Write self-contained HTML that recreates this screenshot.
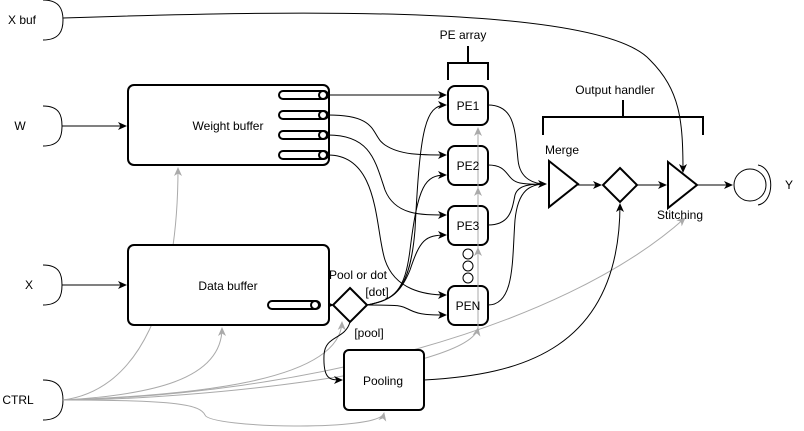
<!DOCTYPE html>
<html><head><meta charset="utf-8"><style>
html,body{margin:0;padding:0;background:#fff;}
svg{display:block;font-family:"Liberation Sans",sans-serif;font-size:12px;}
</style></head><body>
<svg width="804" height="431" viewBox="0 0 804 431" xmlns="http://www.w3.org/2000/svg">
<defs>
<marker id="a" markerWidth="10" markerHeight="10" refX="8" refY="5" orient="auto" markerUnits="userSpaceOnUse"><path d="M0,1 L9,5 L0,9 L2.5,5 Z" fill="#000"/></marker>
<marker id="g" markerWidth="10" markerHeight="10" refX="8" refY="5" orient="auto" markerUnits="userSpaceOnUse"><path d="M0,1 L9,5 L0,9 L2.5,5 Z" fill="#aaa"/></marker>
</defs>
<g fill="none" stroke="#000">
<path d="M43,0 C60,0 63,10 63,20 C63,30 60,40 43,40"/>
<path d="M43,106 C60,106 62,116 62,126 C62,136 60,146 43,146"/>
<path d="M43,265 C60,265 62,275 62,285 C62,295 60,305 43,305"/>
<path d="M43,380 C60,380 63,390 63,400 C63,410 60,420 43,420"/>
</g>
<g fill="none" stroke="#aaa" stroke-width="1">
<path d="M63,400 C140,390 178,300 178,168" marker-end="url(#g)"/>
<path d="M63,400 C150,395 222,380 222,328" marker-end="url(#g)"/>
<path d="M63,400 C200,395 340,380 342,322" marker-end="url(#g)"/>
<path d="M63,400 C200,400 470,370 478,328" marker-end="url(#g)"/>
<path d="M63,400 C300,395 560,330 685,218" marker-end="url(#g)"/>
<path d="M63,400 C180,400 200,405 205,415 C210,428 380,432 384,413" marker-end="url(#g)"/>
</g>
<g fill="none" stroke="#000" stroke-width="1">
<path d="M63,18 C300,10 600,5 650,60 C680,90 683,120 683,172" marker-end="url(#a)"/>
<line x1="62" y1="126" x2="126" y2="126" marker-end="url(#a)"/>
<line x1="62" y1="285" x2="126" y2="285" marker-end="url(#a)"/>
<line x1="328" y1="95" x2="446" y2="95" marker-end="url(#a)"/>
<path d="M328,115 C380,115 370,135 385,145 C400,155 420,155 446,155" marker-end="url(#a)"/>
<path d="M328,135 C370,135 375,160 385,190 C395,215 420,215 446,215" marker-end="url(#a)"/>
<path d="M328,155 C380,155 375,230 385,260 C395,290 425,295 446,295" marker-end="url(#a)"/>
<path d="M367,305 C395,300 410,290 415,230 C420,130 425,105 446,105" marker-end="url(#a)"/>
<path d="M367,305 C395,300 405,290 410,250 C418,185 425,175 446,175" marker-end="url(#a)"/>
<path d="M367,305 C390,300 400,295 410,270 C420,240 425,235 446,235" marker-end="url(#a)"/>
<path d="M367,305 C400,305 400,305 410,310 C420,315 430,315 446,315" marker-end="url(#a)"/>
<path d="M350,322 C345,340 325,335 324,355 C323,380 330,380 342,380" marker-end="url(#a)"/>
<path d="M320,305 L333,305" marker-end="url(#a)"/>
<path d="M488,105 C515,105 515,130 518,160 C520,180 535,184 546,184" marker-end="url(#a)"/>
<path d="M488,165 C510,165 505,180 520,183 C530,185 540,184 546,184"/>
<path d="M488,225 C510,225 512,210 515,195 C518,185 530,184 546,184"/>
<path d="M488,305 C515,305 512,260 515,220 C518,190 530,184 546,184"/>
<path d="M424,380 C520,375 620,350 620,204" marker-end="url(#a)"/>
<line x1="578" y1="185" x2="601" y2="185" marker-end="url(#a)"/>
<line x1="637" y1="185" x2="666" y2="185" marker-end="url(#a)"/>
<line x1="697" y1="185" x2="732" y2="185" marker-end="url(#a)"/>
</g>
<g fill="#fff" stroke="#000" stroke-width="2">
<rect x="128" y="85" width="201" height="80" rx="6"/>
<rect x="128" y="245" width="201" height="80" rx="6"/>
<rect x="344" y="350" width="80" height="60" rx="5"/>
<rect x="448" y="86" width="40" height="39" rx="7"/>
<rect x="448" y="146" width="40" height="39" rx="7"/>
<rect x="448" y="206" width="40" height="39" rx="7"/>
<rect x="448" y="286" width="40" height="39" rx="7"/>
<path d="M350,288 L367,305 L350,322 L333,305 Z"/>
<path d="M620,168 L637,185 L620,202 L603,185 Z"/>
<path d="M549,161 L578,184 L549,207 Z"/>
<path d="M668,162 L697,185 L668,208 Z"/>
<path d="M468,46 V63 M448,80 V63 H488 V80" fill="none"/>
<path d="M623,100 V117 M543,135 V117 H703 V135" fill="none"/>
</g>
<g fill="none" stroke="#aaa" stroke-width="1">
<line x1="478" y1="328" x2="478" y2="128" marker-end="url(#g)"/>
<path d="M478,265 L478,248" marker-end="url(#g)"/>
<path d="M478,205 L478,188" marker-end="url(#g)"/>
</g>
<g fill="#fff" stroke="#000" stroke-width="2">
<rect x="279" y="91" width="49" height="8" rx="4"/><circle cx="323" cy="95" r="4"/>
<rect x="279" y="111" width="49" height="8" rx="4"/><circle cx="323" cy="115" r="4"/>
<rect x="279" y="131" width="49" height="8" rx="4"/><circle cx="323" cy="135" r="4"/>
<rect x="279" y="151" width="49" height="8" rx="4"/><circle cx="323" cy="155" r="4"/>
<rect x="268" y="301" width="52" height="8" rx="4"/><circle cx="315" cy="305" r="4"/>
</g>
<g fill="#fff" stroke="#000" stroke-width="1">
<circle cx="468" cy="254" r="5"/><circle cx="468" cy="266" r="5"/><circle cx="468" cy="278" r="5"/>
<circle cx="750" cy="185" r="16"/>
<path d="M758,165 C775,168 775,202 758,205" fill="none"/>
</g>
<g fill="#000" text-anchor="middle" dominant-baseline="central">
<text x="22" y="20">X buf</text>
<text x="20" y="126">W</text>
<text x="29" y="285">X</text>
<text x="18" y="400">CTRL</text>
<text x="228" y="126">Weight buffer</text>
<text x="228" y="286">Data buffer</text>
<text x="383" y="381">Pooling</text>
<text x="468" y="106">PE1</text>
<text x="468" y="166">PE2</text>
<text x="468" y="226">PE3</text>
<text x="468" y="306">PEN</text>
<text x="358" y="275">Pool or dot</text>
<text x="377" y="292">[dot]</text>
<text x="369" y="333">[pool]</text>
<text x="463" y="35">PE array</text>
<text x="615" y="90">Output handler</text>
<text x="562" y="150">Merge</text>
<text x="680" y="215">Stitching</text>
<text x="789" y="185">Y</text>
</g>
</svg>
</body></html>
